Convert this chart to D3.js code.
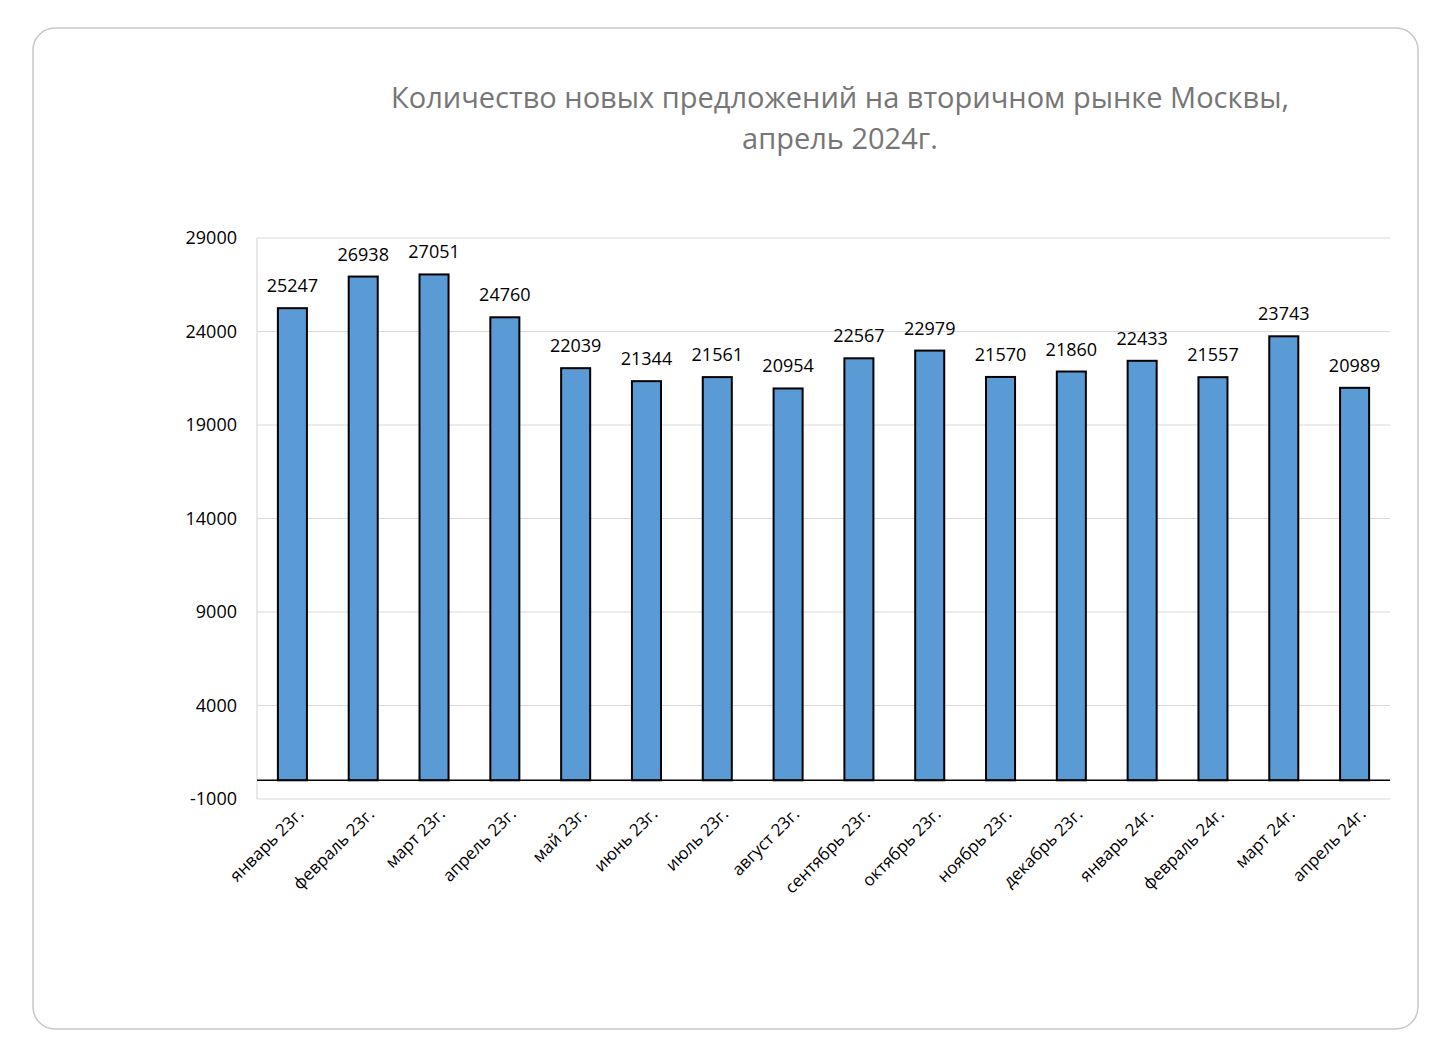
<!DOCTYPE html>
<html>
<head>
<meta charset="utf-8">
<script src="https://cdn.jsdelivr.net/npm/d3@7"></script>
<style>
  body { margin: 0; background: #fff; }
  text { font-family: "Open Sans", "Liberation Sans", sans-serif; }
</style>
</head>
<body>
<svg id="chart" width="1452" height="1044"></svg>
<script>
// data
var months = ["январь 23г.", "февраль 23г.", "март 23г.", "апрель 23г.", "май 23г.", "июнь 23г.",
  "июль 23г.", "август 23г.", "сентябрь 23г.", "октябрь 23г.", "ноябрь 23г.", "декабрь 23г.",
  "январь 24г.", "февраль 24г.", "март 24г.", "апрель 24г."];
var offers = [25247, 26938, 27051, 24760, 22039, 21344, 21561, 20954, 22567, 22979, 21570, 21860,
  22433, 21557, 23743, 20989];
var yTicks = [-1000, 4000, 9000, 14000, 19000, 24000, 29000];
var titleLines = ["Количество новых предложений на вторичном рынке Москвы,", "апрель 2024г."];

var svg = d3.select("#chart");

svg.append("rect")
  .attr("x", 33).attr("y", 28).attr("width", 1385).attr("height", 1001)
  .attr("rx", 22).attr("fill", "#fff").attr("stroke", "#c8c8c8").attr("stroke-width", 1.5);

var plotLeft = 257, plotRight = 1390, plotTop = 238, plotBottom = 799;

var x = d3.scaleBand().domain(months).range([plotLeft, plotRight]).paddingInner(0.59).paddingOuter(0.295);
var y = d3.scaleLinear().domain([-1000, 29000]).range([plotBottom, plotTop]);

// gridlines
svg.append("g").selectAll("line").data(yTicks).join("line")
  .attr("x1", plotLeft).attr("x2", plotRight)
  .attr("y1", function(d) { return y(d); }).attr("y2", function(d) { return y(d); })
  .attr("stroke", "#d9d9d9").attr("stroke-width", 1.2);

// left axis line
svg.append("line").attr("x1", plotLeft).attr("x2", plotLeft).attr("y1", plotTop).attr("y2", plotBottom)
  .attr("stroke", "#d9d9d9").attr("stroke-width", 1.2);

// tick labels
svg.append("g").selectAll("text").data(yTicks).join("text")
  .attr("x", plotLeft - 20).attr("y", function(d) { return y(d); })
  .attr("dy", "0.35em").attr("text-anchor", "end")
  .attr("font-size", 18).attr("fill", "#000")
  .text(function(d) { return d; });

// bars
svg.append("g").selectAll("rect").data(offers).join("rect")
  .attr("x", function(d, i) { return x(months[i]); })
  .attr("width", x.bandwidth())
  .attr("y", function(d) { return y(d); })
  .attr("height", function(d) { return y(0) - y(d); })
  .attr("fill", "#5b9bd5").attr("stroke", "#000").attr("stroke-width", 2);

// zero line
svg.append("line").attr("x1", plotLeft).attr("x2", plotRight).attr("y1", y(0)).attr("y2", y(0))
  .attr("stroke", "#000").attr("stroke-width", 1.5);

// value labels
svg.append("g").selectAll("text").data(offers).join("text")
  .attr("x", function(d, i) { return x(months[i]) + x.bandwidth() / 2; })
  .attr("y", function(d) { return y(d) - 16; })
  .attr("text-anchor", "middle").attr("font-size", 18).attr("fill", "#000")
  .text(function(d) { return d; });

// category labels
svg.append("g").selectAll("text").data(months).join("text")
  .attr("transform", function(d) {
    return "translate(" + (x(d) + x.bandwidth() / 2 + 8) + "," + (plotBottom + 12) + ") rotate(-45)";
  })
  .attr("text-anchor", "end").attr("dy", "0.35em")
  .attr("font-size", 17).attr("fill", "#000")
  .text(function(d) { return d; });

// title
svg.append("g").selectAll("text").data(titleLines).join("text")
  .attr("x", 840).attr("y", function(d, i) { return 108 + i * 41; })
  .attr("text-anchor", "middle").attr("font-size", 29).attr("fill", "#767676")
  .text(function(d) { return d; });
</script>
</body>
</html>
